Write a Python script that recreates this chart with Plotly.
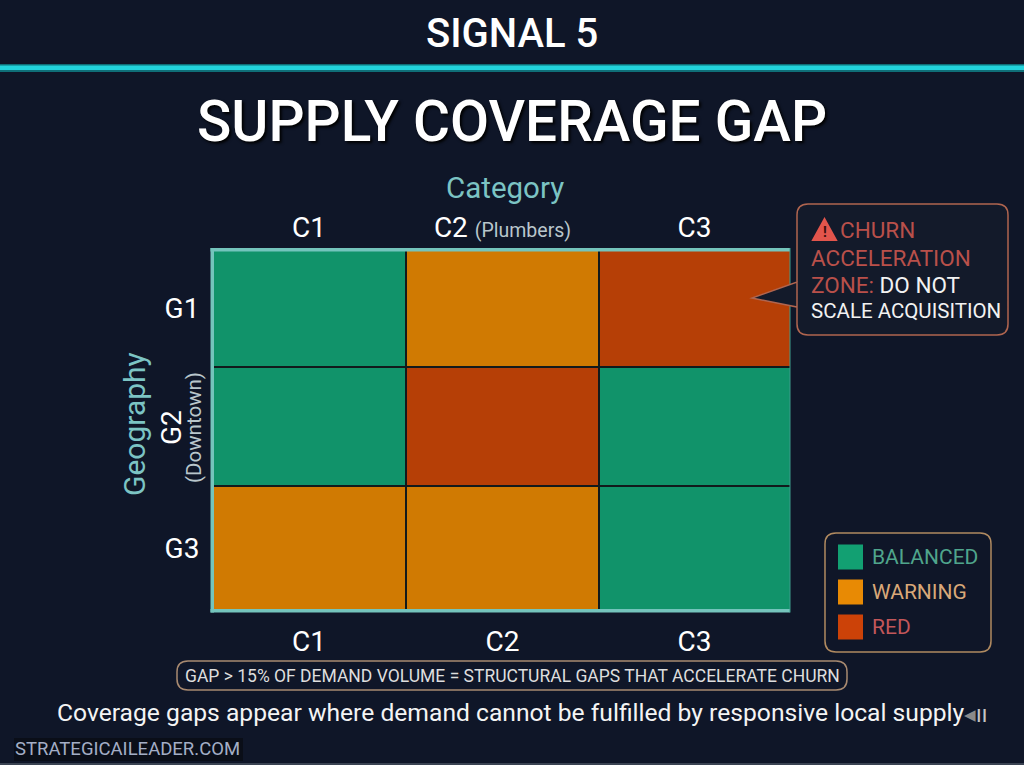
import plotly.graph_objects as go

# ---- data ----
col_labels_top = ["C1", "C2 <span style='font-size:19.5px;color:#b9c6cc'>(Plumbers)</span>", "C3"]
col_labels_bottom = ["C1", "C2", "C3"]
row_labels = ["G1", "", "G3"]
status_names = ["BALANCED", "WARNING", "RED"]
status_grid = [[0, 1, 2],
               [0, 2, 0],
               [1, 1, 0]]

# ---- styles / layout ----
W, H = 1024, 765
BG = "#0f1628"
FONT = "Roboto"
cell_colors = ["#11936a", "#d07a02", "#b63f06"]
legend_colors = ["#12a072", "#e88a04", "#cc4208"]
legend_text = ["#4fa58c", "#d9a878", "#c2575a"]
TEAL = "#7cc4c4"
# plot frame in px
L, R, T, B = 212, 790, 250, 611
col_edges = [0, 194, 387, 578]
row_edges = [0, 117, 236, 361]


def px(x):
    return x / W


def py(y):
    return 1 - y / H


def centers(e):
    return [(a + b) / 2 for a, b in zip(e[:-1], e[1:])]


shapes, ann = [], []


def text(x, y, s, size, color="#ffffff", xa="center", weight=400, angle=0, shadow=None, align=None):
    ann.append(dict(x=px(x), y=py(y), xref="paper", yref="paper", text=s, showarrow=False,
                    xanchor=xa, yanchor="middle", textangle=angle, align=align or xa,
                    font=dict(family=FONT, size=size, color=color, weight=weight,
                              shadow=shadow or "none")))


def rrect(x0, y0, x1, y1, r, line, width=1.5, fill=None, tail=None):
    def p(x, y):
        return f"{px(x):.5f},{py(y):.5f}"
    d = f"M{p(x0 + r, y0)} L{p(x1 - r, y0)} Q{p(x1, y0)} {p(x1, y0 + r)} L{p(x1, y1 - r)} Q{p(x1, y1)} {p(x1 - r, y1)} L{p(x0 + r, y1)} Q{p(x0, y1)} {p(x0, y1 - r)} "
    if tail:
        d += f"L{p(x0, tail[2])} L{p(tail[0], tail[1])} L{p(x0, tail[3])} "
    d += f"L{p(x0, y0 + r)} Q{p(x0, y0)} {p(x0 + r, y0)} Z"
    shapes.append(dict(type="path", path=d, xref="paper", yref="paper",
                       line=dict(color=line, width=width), fillcolor=fill or "rgba(0,0,0,0)"))


def prect(x0, y0, x1, y1, color, layer="above"):
    shapes.append(dict(type="rect", xref="paper", yref="paper", x0=px(x0), x1=px(x1), y0=py(y1), y1=py(y0),
                       fillcolor=color, line_width=0, layer=layer))


# header
prect(0, 64, W, 72, "#0f6f78", "below")
prect(0, 65.5, W, 70, "#22d3dc", "below")
text(512, 34, "SIGNAL 5", 40, weight=500)
text(512, 122, "SUPPLY COVERAGE GAP", 56.7, weight=500, shadow="2px 2px 3px #000000")
text(505, 188, "Category", 29.5, color=TEAL)
text(134, 424, "Geography", 30, color=TEAL, angle=-90)
text(171, 428, "G2", 28, angle=-90)
text(194, 428, "(Downtown)", 20.5, color="#b9c6cc", angle=-90)

# grid lines + frame
for e in col_edges[1:-1]:
    shapes.append(dict(type="line", x0=e, x1=e, y0=row_edges[0], y1=row_edges[-1], xref="x", yref="y",
                       line=dict(color="#121a1c", width=2)))
for e in row_edges[1:-1]:
    shapes.append(dict(type="line", x0=col_edges[0], x1=col_edges[-1], y0=e, y1=e, xref="x", yref="y",
                       line=dict(color="#121a1c", width=2)))
FRAME = "#74c4bc"
prect(L - 1.5, T - 2, R, T + 1.5, FRAME)
prect(L - 1.5, T - 2, L + 2, B + 1.5, FRAME)
prect(L - 1.5, B - 2, R, B + 1.5, FRAME)
prect(R - 0.5, T - 2, R + 0.5, B + 1.5, "#3f9b8c")

# callout
CALL_RED = "#b9504a"
rrect(797, 204, 1008, 335, 11, "#b0654f", 1.5, fill="#131a2a", tail=(752, 298, 282, 307))
tri = f"M{px(813):.5f},{py(240):.5f} L{px(836):.5f},{py(240):.5f} L{px(824.5):.5f},{py(219):.5f} Z"
shapes.append(dict(type="path", path=tri, xref="paper", yref="paper", fillcolor="#e2554c",
                   line=dict(color="#e2554c", width=2)))
text(824.5, 232, "!", 14, color="#3a0d0d", weight=700)
text(838, 230, "CHURN", 22.5, color=CALL_RED, xa="left")
text(809, 258, "ACCELERATION", 22.5, color=CALL_RED, xa="left")
text(809, 285, f"<span style='color:{CALL_RED}'>ZONE:</span> DO NOT", 22.5, color="#f2f2f2", xa="left")
text(809, 311, "SCALE ACQUISITION", 20.5, color="#f2f2f2", xa="left")

# legend
rrect(825, 533, 991, 652, 11, "#b08a60", 1.5)
for i, name in enumerate(status_names):
    yc = 557 + i * 35
    prect(838, yc - 12.5, 863, yc + 12.5, legend_colors[i])
    text(870, yc, name, 21, color=legend_text[i], xa="left")

# footer
rrect(177, 661, 847, 690, 11, "#a88a70", 1.5)
text(512, 675.5, "GAP &gt; 15% OF DEMAND VOLUME = STRUCTURAL GAPS THAT ACCELERATE CHURN", 17.5, color="#dedede")
text(55, 712, "Coverage gaps appear where demand cannot be fulfilled by responsive local supply", 24.65, color="#f4f4f4", xa="left")
text(962, 714, "<span style='color:#8a8a8a'>◂</span>ıı", 23, color="#c4c4c4", xa="left")
prect(14, 738, 243, 761, "#0a0e18", "below")
text(13, 749, "STRATEGICAILEADER.COM", 18.5, color="#a4aec6", xa="left")
prect(0, 763, W, H, "#3a4352", "below")

fig = go.Figure()
fig.add_trace(go.Heatmap(x=col_edges, y=row_edges, z=status_grid, zmin=0, zmax=2, showscale=False,
                         colorscale=[[0, cell_colors[0]], [0.33, cell_colors[0]], [0.33, cell_colors[1]],
                                     [0.66, cell_colors[1]], [0.66, cell_colors[2]], [1, cell_colors[2]]],
                         hoverinfo="skip"))
fig.add_trace(go.Scatter(x=centers(col_edges), y=centers(row_edges), xaxis="x2", mode="markers",
                         marker=dict(opacity=0), hoverinfo="skip", showlegend=False))

tick_font = dict(family=FONT, size=28, color="#ffffff")
fig.update_layout(
    width=W, height=H, margin=dict(l=0, r=0, t=0, b=0), paper_bgcolor=BG, plot_bgcolor=BG,
    showlegend=False, shapes=shapes, annotations=ann,
    xaxis=dict(domain=[px(L), px(R)], range=[col_edges[0], col_edges[-1]], side="top",
               tickvals=centers(col_edges), ticktext=col_labels_top, tickfont=tick_font,
               showgrid=False, zeroline=False, ticks="outside", ticklen=1, tickcolor="rgba(0,0,0,0)"),
    xaxis2=dict(domain=[px(L), px(R)], range=[col_edges[0], col_edges[-1]], side="bottom", anchor="y",
                overlaying="x", tickvals=centers(col_edges), ticktext=col_labels_bottom, tickfont=tick_font,
                showgrid=False, zeroline=False, ticks="outside", ticklen=5, tickcolor="rgba(0,0,0,0)"),
    yaxis=dict(domain=[py(B), py(T)], range=[row_edges[-1], row_edges[0]],
               tickvals=centers(row_edges), ticktext=row_labels, tickfont=tick_font,
               showgrid=False, zeroline=False, ticks="outside", ticklen=6, tickcolor="rgba(0,0,0,0)"),
)
fig.write_html("out.html", config=dict(displayModeBar=False),
               post_script="document.body.style.margin='0';")
